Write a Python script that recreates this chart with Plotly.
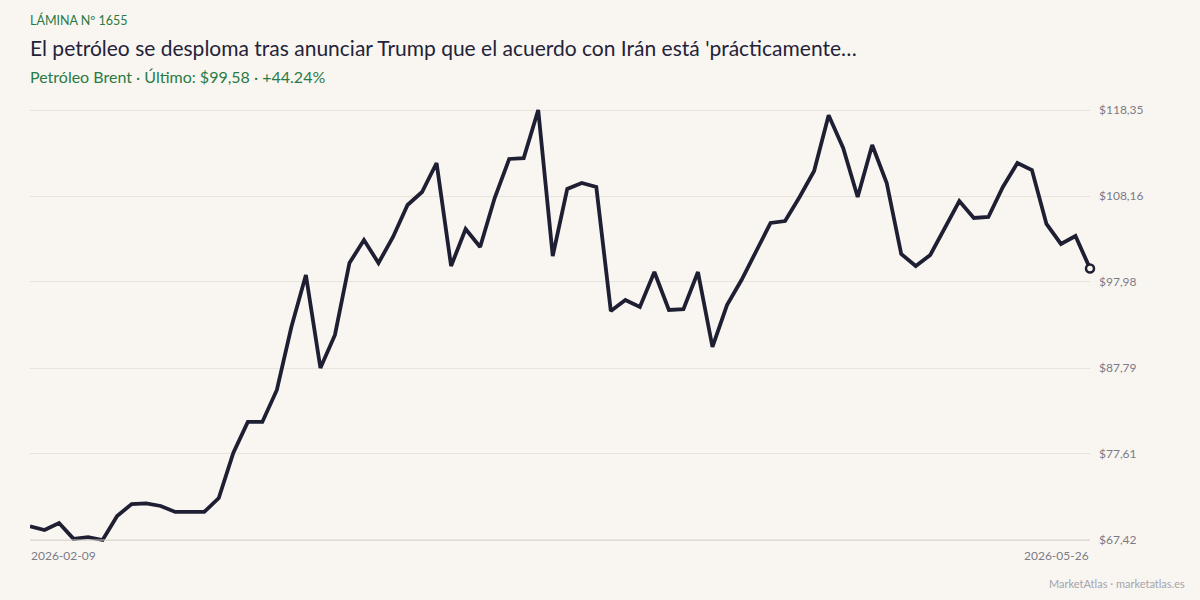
import plotly.graph_objects as go

# ---- data ----
x_labels = ["2026-02-09", "2026-05-26"]
prices = [
    69.04, 68.60, 69.43, 67.55, 67.75, 67.42, 70.26, 71.68, 71.75, 71.45,
    70.74, 70.74, 70.74, 72.39, 77.72, 81.40, 81.40, 85.19, 92.65, 98.81,
    87.79, 91.70, 100.23, 102.95, 100.23, 103.31, 107.10, 108.64, 112.07, 99.87,
    104.26, 102.12, 107.93, 112.55, 112.65, 118.35, 101.06, 109.00, 109.71, 109.24,
    94.54, 95.85, 95.02, 99.16, 94.66, 94.75, 99.16, 90.28, 95.25, 98.21,
    101.53, 104.97, 105.20, 108.05, 111.12, 117.72, 113.85, 108.05, 114.20, 109.71,
    101.29, 99.87, 101.18, 104.38, 107.57, 105.56, 105.68, 109.24, 112.07, 111.24,
    104.85, 102.48, 103.43, 99.58,
]
y_ticks = [67.42, 77.61, 87.79, 97.98, 108.16, 118.35]
y_ticktext = ["$67,42", "$77,61", "$87,79", "$97,98", "$108,16", "$118,35"]

title = "El petróleo se desploma tras anunciar Trump que el acuerdo con Irán está 'prácticamente…"
kicker = "LÁMINA Nº 1655"
subtitle = "Petróleo Brent · Último: $99,58 · +44.24%"
footer = "MarketAtlas · marketatlas.es"

# ---- style ----
BG = "#f9f6f1"
LINE = "#1f1f33"
GREEN = "#2a7a45"
GRID = "#e8e3db"
TICK = "#7b7b88"
FONT = "Lato, 'Open Sans', sans-serif"

W, H = 1200, 600
L, R, T, B = 30, 110, 105, 55
ph = H - T - B
pw = W - L - R


def py(pix):
    return (H - B - pix) / ph


def px(pix):
    return (pix - L) / pw


n = len(prices)
xs = list(range(n))
pad = (y_ticks[-1] - y_ticks[0]) / 430 * 5

fig = go.Figure()
fig.add_trace(go.Scatter(
    x=xs, y=prices, mode="lines",
    line=dict(color=LINE, width=3.8, shape="linear"),
    hoverinfo="skip", showlegend=False,
))
fig.add_trace(go.Scatter(
    x=[xs[-1]], y=[prices[-1]], mode="markers",
    marker=dict(size=8, color=BG, line=dict(color=LINE, width=2.5)),
    hoverinfo="skip", showlegend=False, cliponaxis=False,
))

fig.update_layout(
    width=W, height=H,
    margin=dict(l=L, r=R, t=T, b=B, pad=0),
    paper_bgcolor=BG, plot_bgcolor=BG,
    font=dict(family=FONT, color=TICK, size=12),
    xaxis=dict(range=[0, n - 1], showgrid=False, zeroline=False,
               showticklabels=False, showline=False, ticks=""),
    yaxis=dict(side="right", range=[y_ticks[0] - pad, y_ticks[-1] + pad],
               tickvals=y_ticks, ticktext=y_ticktext, showgrid=True,
               gridcolor=GRID, gridwidth=1, zeroline=False, showline=False,
               ticks="", ticklabelstandoff=8,
               tickfont=dict(family=FONT, size=12, color=TICK)),
    shapes=[dict(type="line", xref="paper", yref="y", x0=0, x1=1,
                 y0=y_ticks[0], y1=y_ticks[0],
                 line=dict(color="#d8d3ca", width=1))],
)

ann = [
    dict(text=kicker, x=px(29), y=py(20), font=dict(size=12.5, color=GREEN)),
    dict(text=title, x=px(29), y=py(48), font=dict(size=21, color="#23233a")),
    dict(text=subtitle, x=px(29), y=py(76), font=dict(size=16, color=GREEN)),
]
for a in ann:
    fig.add_annotation(xref="paper", yref="paper", xanchor="left", yanchor="middle",
                       showarrow=False, borderpad=0, **a)

fig.add_annotation(xref="x", yref="paper", x=0, y=py(555), text=x_labels[0],
                   xanchor="left", yanchor="middle", showarrow=False, borderpad=0,
                   font=dict(family=FONT, size=12, color=TICK))
fig.add_annotation(xref="x", yref="paper", x=n - 1, y=py(555), text=x_labels[1],
                   xanchor="right", yanchor="middle", showarrow=False, borderpad=0,
                   font=dict(family=FONT, size=12, color=TICK))
fig.add_annotation(xref="paper", yref="paper", x=px(1187), y=py(583), text=footer,
                   xanchor="right", yanchor="middle", showarrow=False,
                   font=dict(family=FONT, size=11, color="#a3a3ad"))

fig.write_html("out.html")
